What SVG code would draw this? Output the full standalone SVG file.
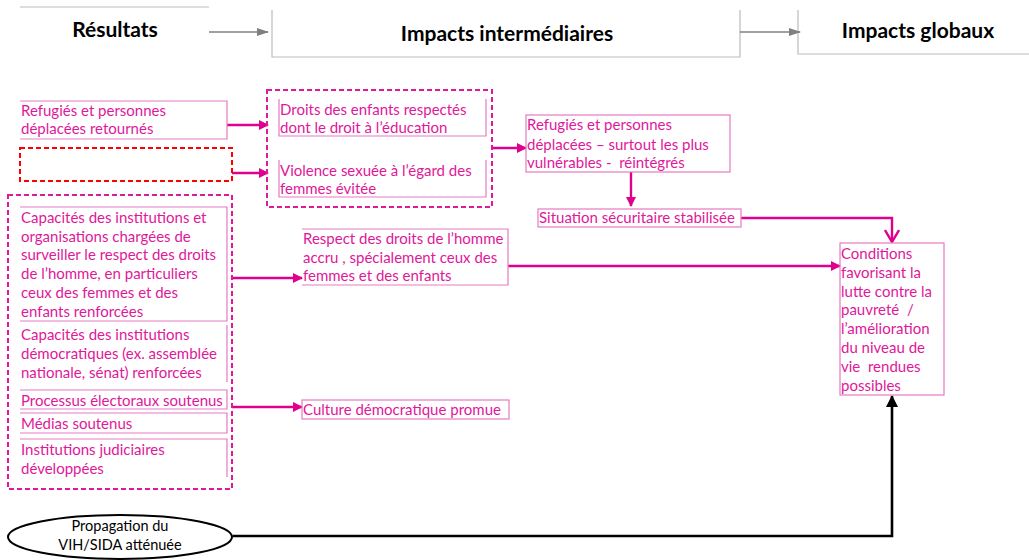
<svg xmlns="http://www.w3.org/2000/svg" width="1029" height="560" viewBox="0 0 1029 560">
<style>
.t{font-family:Lato,"Liberation Sans",sans-serif;font-size:15px;fill:#E0189A;white-space:pre}
.h{font-family:Lato,"Liberation Sans",sans-serif;font-size:21px;font-weight:bold;fill:#000}
.k{font-family:Lato,"Liberation Sans",sans-serif;font-size:14.5px;fill:#000}
.b{fill:none;stroke:#E77BC4;stroke-width:1.2}
.g{fill:none;stroke:#BBBBBB;stroke-width:1.2}
.c{fill:none;stroke:#E0008E;stroke-width:2.4}
.d{fill:none;stroke:#E0189A;stroke-width:2;stroke-dasharray:5,3}
</style>
<defs>
<marker id="ap" markerWidth="10" markerHeight="10" refX="9" refY="5" orient="auto" markerUnits="userSpaceOnUse"><path d="M0,0 L10,5 L0,10 z" fill="#E0008E"/></marker>
<marker id="ag" markerWidth="12" markerHeight="10" refX="11" refY="5" orient="auto" markerUnits="userSpaceOnUse"><path d="M0,1 L12,5 L0,9 z" fill="#808080"/></marker>
<marker id="ak" markerWidth="12" markerHeight="12" refX="11" refY="6" orient="auto" markerUnits="userSpaceOnUse"><path d="M0,0 L12,6 L0,12 z" fill="#000"/></marker>
<marker id="ao" markerWidth="14" markerHeight="16" refX="13" refY="8" orient="auto" markerUnits="userSpaceOnUse"><path d="M1,1 L13,8 L1,15" fill="none" stroke="#E0008E" stroke-width="2.4"/></marker>
</defs>

<g id="headers">
<path class="g" d="M20,7 H209"/>
<text class="h" x="115" y="37" text-anchor="middle">Résultats</text>
<path class="g" d="M272,10 V57 H740 V10"/>
<text class="h" x="507" y="41" text-anchor="middle">Impacts intermédiaires</text>
<path class="g" d="M798,10 V54 H1029"/>
<text class="h" x="918" y="38" text-anchor="middle">Impacts globaux</text>
</g>

<g id="connectors">
<path d="M209,32 H268" stroke="#808080" stroke-width="1.6" fill="none" marker-end="url(#ag)"/>
<path d="M740,32 H800" stroke="#808080" stroke-width="1.6" fill="none" marker-end="url(#ag)"/>
<path class="c" d="M227,125 H268" marker-end="url(#ap)"/>
<path class="c" d="M232,173 H268" marker-end="url(#ap)"/>
<path class="c" d="M492,148 H526" marker-end="url(#ap)"/>
<path class="c" d="M631,172 V206" marker-end="url(#ap)"/>
<path class="c" d="M741,218 H892 V242" marker-end="url(#ao)"/>
<path class="c" d="M508,266 H840" marker-end="url(#ap)"/>
<path class="c" d="M232,278 H302" marker-end="url(#ap)"/>
<path class="c" d="M232,407 H302" marker-end="url(#ap)"/>
<path d="M233,536 H892 V396" stroke="#000" stroke-width="2.6" fill="none" marker-end="url(#ak)"/>
</g>

<g id="n-refugies-retournes">
<path class="b" d="M20,101 H227 V139 H20"/>
<text class="t" x="21" y="116">Refugiés et personnes</text>
<text class="t" x="21" y="134">déplacées retournés</text>
</g>

<g id="n-vide">
<rect x="20" y="148" width="212" height="33" fill="none" stroke="#FF0000" stroke-width="2" stroke-dasharray="5,3"/>
</g>

<g id="n-groupe-droits">
<rect class="d" x="267" y="90" width="225" height="117"/>
<g id="n-droits-enfants">
<path class="b" d="M279,99 V136 H486 V99"/>
<text class="t" x="280" y="115">Droits des enfants respectés</text>
<text class="t" x="280" y="133">dont le droit à l’éducation</text>
</g>
<g id="n-violence">
<path class="b" d="M279,160 V197 H486 V160"/>
<text class="t" x="280" y="176">Violence sexuée à l’égard des</text>
<text class="t" x="280" y="194">femmes évitée</text>
</g>
</g>

<g id="n-refugies-reintegres">
<rect class="b" x="526" y="115" width="204" height="57"/>
<text class="t" x="527" y="130">Refugiés et personnes</text>
<text class="t" x="527" y="150">déplacées – surtout les plus</text>
<text class="t" x="527" y="168">vulnérables -  réintégrés</text>
</g>

<g id="n-situation">
<rect class="b" x="538" y="209" width="203" height="18"/>
<text class="t" x="539" y="223">Situation sécuritaire stabilisée</text>
</g>

<g id="n-groupe-capacites">
<rect class="d" x="8" y="195" width="224" height="294"/>
<g id="n-capacites-droits">
<path class="b" d="M20,207 H227 V321 H20"/>
<text class="t" x="21" y="223">Capacités des institutions et</text>
<text class="t" x="21" y="242">organisations chargées de</text>
<text class="t" x="21" y="260">surveiller le respect des droits</text>
<text class="t" x="21" y="279">de l’homme, en particuliers</text>
<text class="t" x="21" y="298">ceux des femmes et des</text>
<text class="t" x="21" y="317">enfants renforcées</text>
</g>
<g id="n-capacites-democratiques">
<path class="b" d="M227,325 V382"/>
<text class="t" x="21" y="340">Capacités des institutions</text>
<text class="t" x="21" y="359">démocratiques (ex. assemblée</text>
<text class="t" x="21" y="378">nationale, sénat) renforcées</text>
</g>
<g id="n-processus">
<path class="b" d="M20,390 H227 V409 H20"/>
<text class="t" x="21" y="406">Processus électoraux soutenus</text>
</g>
<g id="n-medias">
<path class="b" d="M20,413 H227 V433 H20"/>
<text class="t" x="21" y="429">Médias soutenus</text>
</g>
<g id="n-judiciaires">
<path class="b" d="M20,439 H227 V477"/>
<text class="t" x="21" y="455">Institutions judiciaires</text>
<text class="t" x="21" y="474">développées</text>
</g>
</g>

<g id="n-respect">
<path class="b" d="M302,229 H508 V285 H302"/>
<text class="t" x="303" y="244">Respect des droits de l’homme</text>
<text class="t" x="303" y="263">accru , spécialement ceux des</text>
<text class="t" x="303" y="281">femmes et des enfants</text>
</g>

<g id="n-culture">
<rect class="b" x="302" y="400" width="207" height="19"/>
<text class="t" x="303" y="415">Culture démocratique promue</text>
</g>

<g id="n-conditions">
<rect class="b" x="840" y="243" width="104" height="152"/>
<text class="t" x="841" y="259">Conditions</text>
<text class="t" x="841" y="278">favorisant la</text>
<text class="t" x="841" y="297">lutte contre la</text>
<text class="t" x="841" y="315">pauvreté  /</text>
<text class="t" x="841" y="334">l’amélioration</text>
<text class="t" x="841" y="353">du niveau de</text>
<text class="t" x="841" y="372">vie  rendues</text>
<text class="t" x="841" y="391">possibles</text>
</g>

<g id="n-vih">
<ellipse cx="120" cy="537" rx="112" ry="22" fill="#fff" stroke="#000" stroke-width="2"/>
<text class="k" x="120" y="531" text-anchor="middle">Propagation du</text>
<text class="k" x="120" y="550" text-anchor="middle">VIH/SIDA atténuée</text>
</g>
</svg>
